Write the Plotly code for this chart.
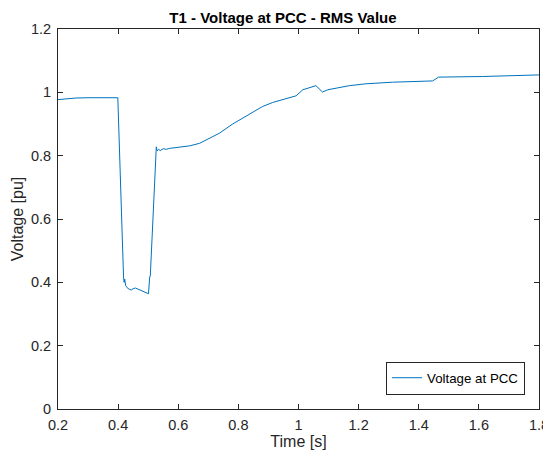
import plotly.graph_objects as go

# RMS voltage at the PCC
TIME_S = [
    0.200, 0.230, 0.260, 0.300, 0.350, 0.399, 0.418, 0.420, 0.422, 0.425,
    0.430, 0.437, 0.444, 0.450, 0.458, 0.470, 0.480, 0.490, 0.501, 0.505,
    0.507, 0.527, 0.530, 0.535, 0.540, 0.550, 0.560, 0.571, 0.600, 0.638,
    0.671, 0.700, 0.737, 0.781, 0.848, 0.880, 0.914, 0.950, 0.992, 1.014,
    1.040, 1.058, 1.080, 1.097, 1.130, 1.169, 1.225, 1.313, 1.446, 1.466,
    1.612, 1.800,
]
VOLTAGE_PU = [
    0.977, 0.980, 0.982, 0.983, 0.983, 0.983, 0.417, 0.400, 0.410, 0.390,
    0.383, 0.378, 0.376, 0.380, 0.382, 0.377, 0.372, 0.368, 0.364, 0.417,
    0.420, 0.828, 0.815, 0.820, 0.816, 0.822, 0.820, 0.823, 0.826, 0.831,
    0.839, 0.852, 0.871, 0.900, 0.939, 0.955, 0.968, 0.978, 0.989, 1.008,
    1.016, 1.021, 1.001, 1.008, 1.014, 1.021, 1.027, 1.032, 1.036, 1.048,
    1.050, 1.055,
]
X_TICKS = [0.2, 0.4, 0.6, 0.8, 1.0, 1.2, 1.4, 1.6, 1.8]
Y_TICKS = [0, 0.2, 0.4, 0.6, 0.8, 1.0, 1.2]

AXIS_COLOR = "#262626"
FONT = "Liberation Sans, Arial, sans-serif"

# the html body adds an 8px margin, so the figure is a bit smaller than the window
W, H = 543, 447

fig = go.Figure()
fig.add_trace(
    go.Scatter(
        x=TIME_S,
        y=VOLTAGE_PU,
        mode="lines",
        name="Voltage at PCC",
        line=dict(color="#0072BD", width=1),
    )
)

axis_style = dict(
    showline=True,
    linecolor=AXIS_COLOR,
    linewidth=1,
    mirror="ticks",
    ticks="inside",
    ticklen=5,
    tickcolor=AXIS_COLOR,
    showgrid=False,
    zeroline=False,
    automargin=False,
    ticklabelstandoff=3,
    tickfont=dict(family=FONT, size=14.5, color=AXIS_COLOR),
    title_font=dict(family=FONT, size=16, color=AXIS_COLOR),
)

fig.update_xaxes(
    range=[0.2, 1.8], tickvals=X_TICKS, title_text="Time [s]", title_standoff=0, **axis_style
)
fig.update_yaxes(
    range=[0, 1.2], tickvals=Y_TICKS, title_text="Voltage [pu]", title_standoff=3, **axis_style
)

fig.update_layout(
    width=W,
    height=H,
    margin=dict(l=50, r=12, t=21, b=46, pad=0),
    plot_bgcolor="white",
    paper_bgcolor="white",
    font=dict(family=FONT, color=AXIS_COLOR),
    title=dict(
        text="<b>T1 - Voltage at PCC - RMS Value</b>",
        xref="container",
        x=275 / W,
        xanchor="center",
        yref="container",
        y=1 - 10 / H,
        yanchor="middle",
        font=dict(family=FONT, size=15, color="#000000"),
    ),
    showlegend=True,
    legend=dict(
        x=0.971,
        xanchor="right",
        y=0.038,
        yanchor="bottom",
        bgcolor="white",
        bordercolor=AXIS_COLOR,
        borderwidth=1,
        font=dict(family=FONT, size=13.3, color="#000000"),
    ),
)

fig.write_html("out.html")
